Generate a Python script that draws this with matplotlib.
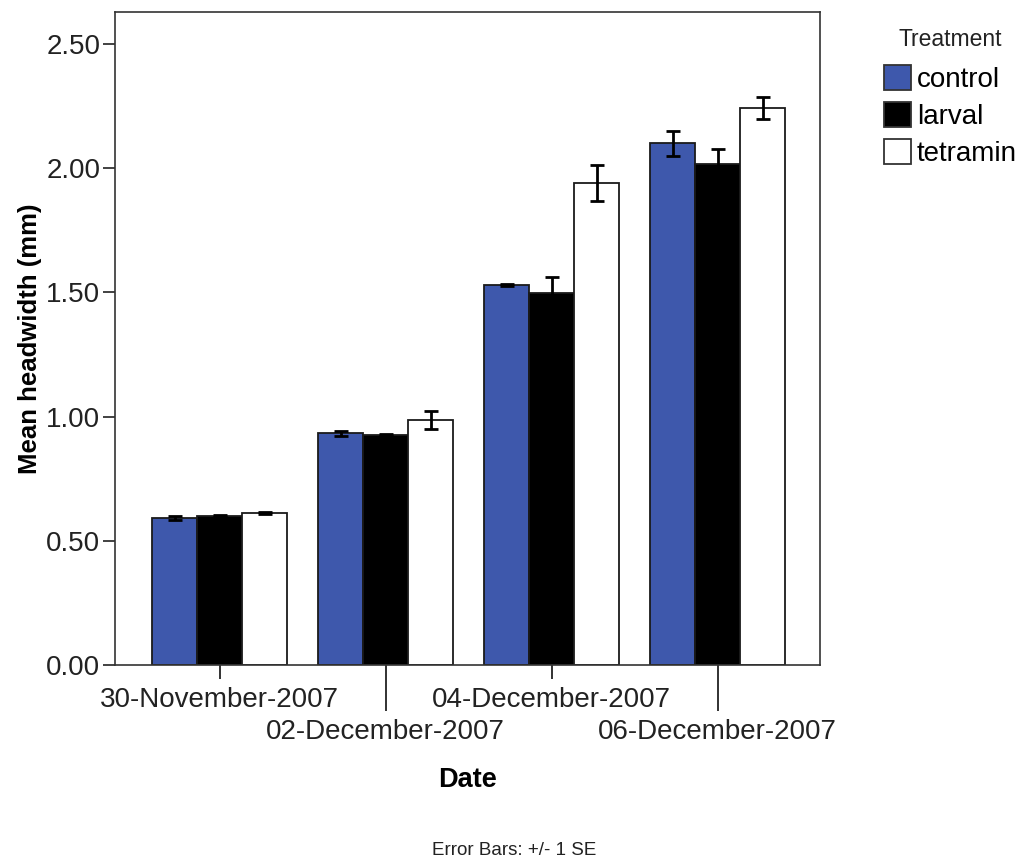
import numpy as np
import matplotlib.pyplot as plt
from matplotlib.patches import Patch

plt.rcParams['font.family'] = ['Liberation Sans', 'DejaVu Sans']

# mean head width per sampling date and treatment, with standard errors
dates = ['30-November-2007', '02-December-2007', '04-December-2007', '06-December-2007']
treatments = ['control', 'larval', 'tetramin']
control = [0.592, 0.934, 1.530, 2.100]
larval = [0.600, 0.926, 1.499, 2.016]
tetramin = [0.612, 0.986, 1.942, 2.242]
control_se = [0.008, 0.010, 0.005, 0.052]
larval_se = [0.003, 0.003, 0.063, 0.060]
tetramin_se = [0.003, 0.036, 0.073, 0.045]

colours = ['#3E58AC', '#000000', '#FFFFFF']

fig = plt.figure(figsize=(10.19, 8.6), dpi=100)
ax = fig.add_axes([0.1129, 0.2267, 0.6919, 0.7593])

x = np.arange(len(dates))
w = 0.271
means = [control, larval, tetramin]
errs = [control_se, larval_se, tetramin_se]
for i in range(3):
    pos = x + (i - 1) * w
    ax.bar(pos, means[i], width=w, color=colours[i], edgecolor='#1a1a1a',
           linewidth=1.3, zorder=2)
    ax.errorbar(pos, means[i], yerr=errs[i], fmt='none', ecolor='black',
                elinewidth=2, capsize=5, capthick=2, zorder=3)

ax.set_xlim(-0.63, 3.617)
ax.set_ylim(0, 2.629)
ax.set_yticks([0, 0.5, 1.0, 1.5, 2.0, 2.5])
ax.set_yticklabels(['%.2f' % v for v in [0, 0.5, 1.0, 1.5, 2.0, 2.5]])
ax.tick_params(axis='y', labelsize=20, length=9, width=1.2, pad=1.5,
               direction='out', colors='#222222')

# date labels staggered on two rows
ax.set_xticks(x[0::2])
ax.set_xticklabels(dates[0::2])
ax.set_xticks(x[1::2], minor=True)
ax.set_xticklabels(dates[1::2], minor=True)
ax.tick_params(axis='x', which='major', labelsize=20, length=10, width=1.3,
               pad=5.5, colors='#222222')
ax.tick_params(axis='x', which='minor', labelsize=20, length=33, width=1.3,
               pad=5.5, colors='#222222')

for s in ax.spines.values():
    s.set_linewidth(1.2)
    s.set_color('#333333')

ax.set_ylabel('Mean headwidth (mm)', fontsize=18.5, fontweight='bold', labelpad=3)
ax.set_xlabel('Date', fontsize=19.5, fontweight='bold', labelpad=16)

# legend entries, with the title set apart above them
handles = [Patch(facecolor=c, edgecolor='#333333', linewidth=1.3) for c in colours]
leg = fig.legend(handles, treatments, loc='upper left',
                 bbox_to_anchor=(0.848, 0.947), frameon=False, fontsize=20,
                 handlelength=1.0, handleheight=1.0,
                 handletextpad=0.2, labelspacing=0.33, borderpad=0.2)
fig.text(0.9325, 0.9535, 'Treatment', ha='center', va='center', fontsize=16.5,
         color='#222222')

fig.text(0.505, 0.0105, 'Error Bars: +/- 1 SE', ha='center', va='center',
         fontsize=13.5, color='#222222')

fig.savefig('out.png', dpi=100)
